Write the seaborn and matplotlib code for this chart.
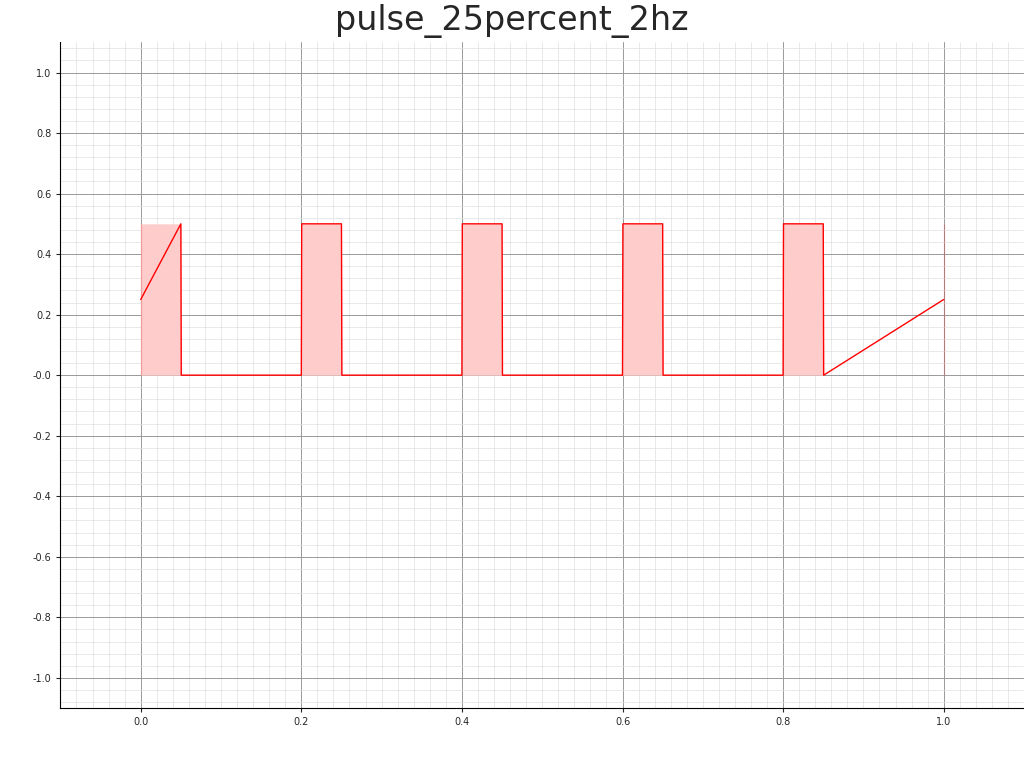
import matplotlib
matplotlib.use("Agg")
import matplotlib.pyplot as plt
import seaborn as sns
import numpy as np
import pandas as pd
from matplotlib.ticker import MultipleLocator

time = [0.0, 0.0, 0.05, 0.0505, 0.2, 0.2005, 0.25, 0.2505, 0.4, 0.4005, 0.45, 0.4505,
        0.6, 0.6005, 0.65, 0.6505, 0.8, 0.8005, 0.85, 0.8505, 1.0, 1.0]
value = [0.0, 0.5, 0.5, 0.0, 0.0, 0.5, 0.5, 0.0, 0.0, 0.5, 0.5, 0.0,
         0.0, 0.5, 0.5, 0.0, 0.0, 0.5, 0.5, 0.0, 0.0, 0.5]
title = "pulse_25percent_2hz"
xticks = [0.0, 0.2, 0.4, 0.6, 0.8, 1.0]
yticks = [-1.0, -0.8, -0.6, -0.4, -0.2, 0.0, 0.2, 0.4, 0.6, 0.8, 1.0]
ylabels = ["-1.0", "-0.8", "-0.6", "-0.4", "-0.2", "-0.0", "0.2", "0.4", "0.6", "0.8", "1.0"]

df = pd.DataFrame({"t": time, "v": value})
sns.set_style("white")
fig = plt.figure(figsize=(10.24, 7.68), dpi=100)
ax = fig.add_axes([0.059, 0.078, 0.941, 0.867])
ax.fill_between(df["t"], df["v"], 0, color=(1, 0.8, 0.8), linewidth=0)
sns.lineplot(data=df, x="t", y="v", sort=False, color="red", linewidth=1, ax=ax)
ax.set_xlim(-0.1, 1.1)
ax.set_ylim(-1.1, 1.1)
ax.set_xticks(xticks)
ax.set_xticklabels([f"{x:.1f}" for x in xticks])
ax.set_yticks(yticks)
ax.set_yticklabels(ylabels)
ax.xaxis.set_minor_locator(MultipleLocator(0.02))
ax.yaxis.set_minor_locator(MultipleLocator(0.04))
ax.grid(which="major", color="#999999", linewidth=0.7)
ax.grid(which="minor", color="#e0e0e0", linewidth=0.5)
ax.tick_params(labelsize=7, which="major", length=3, left=True, bottom=True)
ax.tick_params(which="minor", length=0)
for s in ["top", "right"]:
    ax.spines[s].set_visible(False)
for s in ["left", "bottom"]:
    ax.spines[s].set_color("black")
    ax.spines[s].set_linewidth(0.8)
ax.set_xlabel("")
ax.set_ylabel("")
ax.set_axisbelow(True)
fig.suptitle(title, fontsize=24, y=0.995)
fig.savefig("out.png", dpi=100)
